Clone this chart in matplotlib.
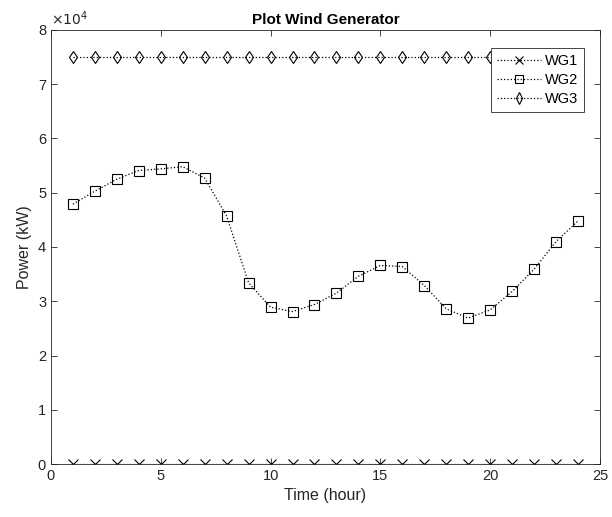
import numpy as np
import matplotlib.pyplot as plt

plt.rcParams['font.family'] = ['Liberation Sans', 'DejaVu Sans']

hours = np.arange(1, 25)
wg1 = np.zeros(24)
wg2 = np.array([4.79, 5.03, 5.25, 5.41, 5.44, 5.48, 5.27, 4.57, 3.34, 2.89, 2.81, 2.94,
                3.15, 3.46, 3.66, 3.64, 3.29, 2.86, 2.69, 2.84, 3.18, 3.59, 4.10, 4.48]) * 1e4
wg3 = np.full(24, 7.5e4)

fig = plt.figure(figsize=(6.12, 5.17), dpi=100)
ax = fig.add_axes([0.0833, 0.1025, 0.897, 0.8395])

style = dict(color='black', linestyle=':', linewidth=0.9, markersize=6.5,
             markerfacecolor='none', markeredgewidth=0.8)
ax.plot(hours, wg1, marker='x', label='WG1', **style)
ax.plot(hours, wg2, marker='s', label='WG2', **style)
ax.plot(hours, wg3, marker='d', label='WG3', **style)

ax.set_xlim(0, 25)
ax.set_ylim(0, 8e4)
ax.set_xticks([0, 5, 10, 15, 20, 25])
ax.set_yticks(np.arange(0, 9) * 1e4)
ax.set_yticklabels([str(i) for i in range(9)])
ax.text(0, 1.005, r'$\times 10^4$', transform=ax.transAxes, fontsize=10,
        ha='left', va='bottom', color='#262626')

ax.tick_params(direction='in', top=True, right=True, labelsize=10.5,
               colors='#262626', length=4, width=0.6)
for s in ax.spines.values():
    s.set_linewidth(0.6)
    s.set_color('#262626')

ax.set_title('Plot Wind Generator', fontsize=11, fontweight='bold', pad=4)
ax.set_xlabel('Time (hour)', fontsize=11.5, color='#262626')
ax.set_ylabel('Power (kW)', fontsize=11.5, color='#262626')

leg = ax.legend(loc='upper right', bbox_to_anchor=(0.971, 0.9585), borderaxespad=0,
                fontsize=10.5, fancybox=False, edgecolor='#262626', framealpha=1,
                handlelength=3, handletextpad=0.3, labelspacing=0.35, markerscale=0.9)
leg.get_frame().set_linewidth(0.6)

plt.savefig('out.png', dpi=100)
